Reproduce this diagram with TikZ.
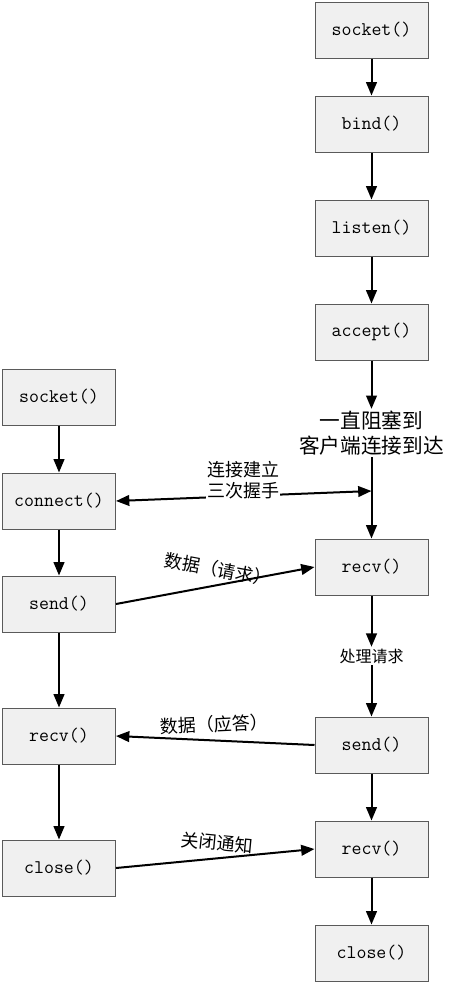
\documentclass[tikz,border=0pt]{standalone}
\usepackage{fontspec}
\newfontfamily\cjk{Noto Sans CJK SC}
\usetikzlibrary{arrows.meta}

\tikzset{every picture/.style={line width=0.75pt}}
\tikzset{
  func/.style={draw={rgb,255:red,90;green,90;blue,90}, fill={rgb,255:red,240;green,240;blue,240},
    minimum width=84.75pt, minimum height=42pt, inner sep=0pt, font=\ttfamily\fontsize{14.5}{16}\selectfont},
  flow/.style={line width=1.5pt, -{Triangle[length=10pt,width=8pt]}},
  flowback/.style={line width=1.5pt, {Triangle[length=10pt,width=8pt]}-},
  note/.style={font=\cjk\fontsize{13.5}{16}\selectfont, inner sep=1pt},
}

\begin{document}
\begin{tikzpicture}[x=0.75pt,y=0.75pt,yscale=-1,xscale=1]
	\useasboundingbox (0,0) rectangle (457,983);

	% server side
	\node [func] (ssocket) at (371.5,30) {socket()};
	\node [func] (sbind) at (371.5,124) {bind()};
	\node [func] (slisten) at (371.5,228) {listen()};
	\node [func] (saccept) at (371.5,332) {accept()};
	\node [note, font=\cjk\fontsize{15.5}{19}\selectfont, align=center] (swait) at (371.5,433) {一直阻塞到\\客户端连接到达};
	\node [func] (srecv) at (371.5,567) {recv()};
	\node [note, font=\cjk\fontsize{12}{14}\selectfont] (sproc) at (371.5,656) {处理请求};
	\node [func] (ssend) at (371.5,745) {send()};
	\node [func] (srecvb) at (371.5,849) {recv()};
	\node [func] (sclose) at (371.5,953) {close()};
	\coordinate (shand) at (371.5,491);

	% client side
	\node [func] (csocket) at (59,397) {socket()};
	\node [func] (cconnect) at (59,501) {connect()};
	\node [func] (csend) at (59,604) {send()};
	\node [func] (crecv) at (59,736) {recv()};
	\node [func] (cclose) at (59,868) {close()};

	% server flow
	\draw [flow] (ssocket) -- (sbind);
	\draw [flow] (sbind) -- (slisten);
	\draw [flow] (slisten) -- (saccept);
	\draw [flow] (saccept) -- (swait);
	\draw [flow] (swait) -- (srecv);
	\draw [flow] (srecv) -- (sproc);
	\draw [flow] (sproc) -- (ssend);
	\draw [flow] (ssend) -- (srecvb);
	\draw [flow] (srecvb) -- (sclose);

	% client flow
	\draw [flow] (csocket) -- (cconnect);
	\draw [flow] (cconnect) -- (csend);
	\draw [flow] (csend) -- (crecv);
	\draw [flow] (crecv) -- (cclose);

	% messages
	\draw [flow, {Triangle[length=10pt,width=8pt]}-{Triangle[length=10pt,width=8pt]}] (cconnect.east) -- (shand);
	\node [note, fill=white, align=center] (hand) at (243,480) {连接建立\\三次握手};
	\draw [flow] (csend.east) -- (srecv.west) node [note, midway, above=4pt, sloped] (req) {数据（请求）};
	\draw [flowback] (crecv.east) -- (ssend.west) node [note, midway, above=4pt, sloped] (resp) {数据（应答）};
	\draw [flow] (cclose.east) -- (srecvb.west) node [note, midway, above=4pt, sloped] (fin) {关闭通知};

\end{tikzpicture}
\end{document}
